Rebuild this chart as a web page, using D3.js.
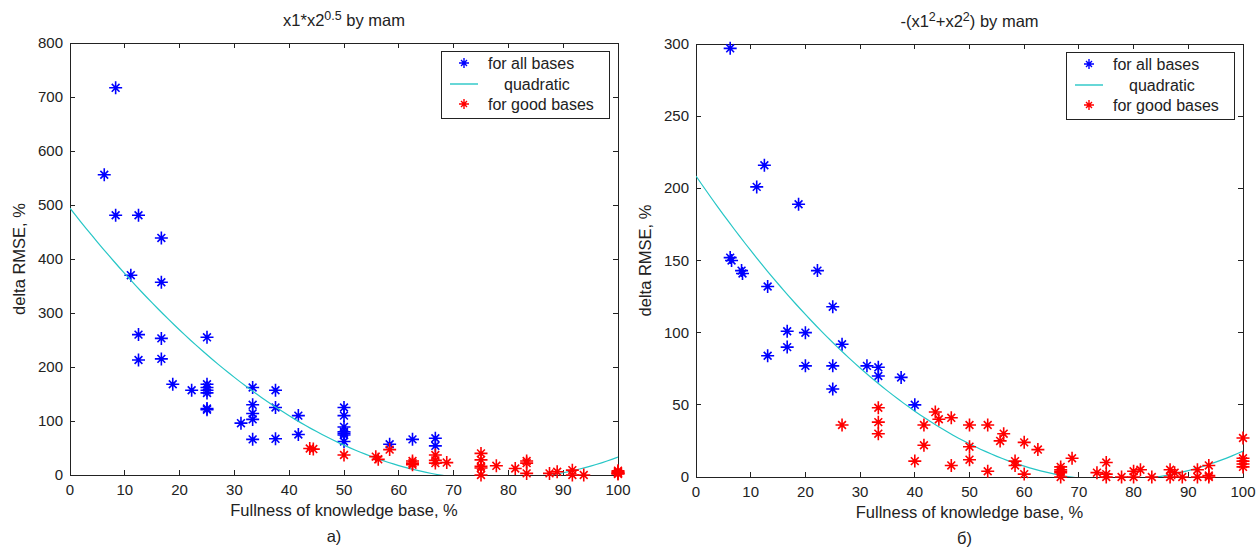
<!DOCTYPE html>
<html lang="ru">
<head>
<meta charset="UTF-8">
<title>delta RMSE vs fullness of knowledge base</title>
<script src="https://cdnjs.cloudflare.com/ajax/libs/d3/7.8.5/d3.min.js"></script>
<style>
    body { margin: 0; background: #fff; }
    svg { display: block; font-family: "Liberation Sans", Arial, sans-serif; }
    .axis-line { stroke: #222; stroke-width: 1; fill: none; shape-rendering: crispEdges; }
    .tick-lbl { font-size: 15px; fill: #222; }
    .lbl { font-size: 16.5px; fill: #222; }
</style>
</head>
<body>
<div id="chart"></div>
<script>
// ---- data ----
const xTicks = [0, 10, 20, 30, 40, 50, 60, 70, 80, 90, 100];
const yTicksA = [0, 100, 200, 300, 400, 500, 600, 700, 800];
const yTicksB = [0, 50, 100, 150, 200, 250, 300];

// panel a) x1*x2^0.5 by mam
const allBasesA = [
    [6.25, 556], [8.33, 717], [8.33, 481], [12.5, 481], [11.1, 370], [16.67, 439], [16.67, 357],
    [12.5, 260], [12.5, 213], [16.67, 253], [16.67, 215], [18.75, 168], [22.2, 157],
    [25, 255], [25, 168], [25, 162], [25, 157], [25, 152], [25, 123], [25, 121],
    [31.2, 96], [33.33, 162], [33.33, 130], [33.33, 114], [33.33, 103], [33.33, 66],
    [37.5, 157], [37.5, 125], [37.5, 67], [41.67, 110], [41.67, 75],
    [50, 125], [50, 110], [50, 89], [50, 80], [50, 77], [50, 74], [50, 62],
    [58.33, 57], [62.5, 66], [66.67, 68], [66.67, 54]
];
const goodBasesA = [
    [43.75, 49], [44.4, 48], [50, 37], [55.8, 34], [56.25, 29], [58.33, 47],
    [62.5, 26], [62.5, 22], [62.5, 19], [66.67, 37], [66.67, 27], [66.67, 22], [68.75, 23],
    [75, 40], [75, 28], [75, 16], [75, 13], [75, 0], [77.8, 17], [81.25, 12],
    [83.33, 26], [83.33, 22], [83.33, 3], [87.5, 3], [88.9, 6], [91.67, 9], [91.67, 0], [93.75, 0],
    [100, 8], [100, 6], [100, 4], [100, 3], [100, 2]
];
const quadA = [0.0833, -12.94, 494];   // a*x^2 + b*x + c

// panel б) -(x1^2+x2^2) by mam
const allBasesB = [
    [6.25, 297], [6.25, 152], [6.5, 150], [8.33, 143], [8.5, 141], [11.1, 201], [12.5, 216],
    [13.1, 132], [13.1, 84], [16.67, 101], [16.67, 90], [18.75, 189], [20, 100], [20, 77],
    [22.2, 143], [25, 118], [25, 77], [25, 61], [26.7, 92], [31.25, 77], [33.33, 76],
    [33.33, 70], [37.5, 69], [40, 50]
];
const goodBasesB = [
    [26.7, 36], [33.33, 48], [33.33, 38], [33.33, 30], [40, 11], [41.67, 36], [41.67, 22],
    [43.75, 45], [44.4, 40], [46.67, 41], [46.67, 8], [50, 36], [50, 21], [50, 12],
    [53.33, 36], [53.33, 4], [55.6, 25], [56.25, 30], [58.33, 11], [58.33, 8], [60, 24], [60, 2],
    [62.5, 19], [66.67, 7], [66.67, 5], [66.67, 4], [66.67, 3], [66.67, 0], [68.75, 13],
    [73.3, 3], [75, 10], [75, 2], [75, 0], [77.8, 0], [80, 4], [80, 0], [81.25, 5], [83.33, 0],
    [86.67, 5], [86.67, 0], [87.5, 3], [88.9, 0], [91.67, 5], [91.67, 0],
    [93.75, 8], [93.75, 1], [93.75, 0], [100, 27], [100, 13], [100, 11], [100, 9], [100, 7]
];
const quadB = [0.0361, -5.516, 208.5];

const legendLabels = ["for all bases", "quadratic", "for good bases"];
const xLabel = "Fullness of knowledge base, %";
const yLabel = "delta RMSE, %";

const BLUE = "#0000ff", RED = "#ff0000", CYAN = "#26c6c6";

const svg = d3.select("#chart").append("svg")
    .attr("width", 1258).attr("height", 547);

// matlab '*' marker: long + arms, shorter diagonals
function star(r) {
    const d = r * 0.6;
    return `M${-r},0H${r}M0,${-r}V${r}M${-d},${-d}L${d},${d}M${-d},${d}L${d},${-d}`;
}

function drawPanel(p) {
    const x = d3.scaleLinear().domain([0, 100]).range([p.left, p.right]);
    const y = d3.scaleLinear().domain([0, p.yMax]).range([p.bottom, p.top]);
    const g = svg.append("g");

    // box + ticks on all four sides (inward)
    g.append("rect").attr("class", "axis-line")
        .attr("x", p.left).attr("y", p.top)
        .attr("width", p.right - p.left).attr("height", p.bottom - p.top);

    const tl = 5;
    g.selectAll(".xt").data(xTicks).enter().append("path")
        .attr("class", "axis-line")
        .attr("d", d => `M${x(d)},${p.bottom}v${-tl}M${x(d)},${p.top}v${tl}`);
    g.selectAll(".yt").data(p.yTicks).enter().append("path")
        .attr("class", "axis-line")
        .attr("d", d => `M${p.left},${y(d)}h${tl}M${p.right},${y(d)}h${-tl}`);

    g.selectAll(".xl").data(xTicks).enter().append("text")
        .attr("class", "tick-lbl")
        .attr("x", d => x(d)).attr("y", p.bottom + 20)
        .attr("text-anchor", "middle").text(d => d);
    g.selectAll(".yl").data(p.yTicks).enter().append("text")
        .attr("class", "tick-lbl")
        .attr("x", p.left - 7).attr("y", d => y(d) + 5)
        .attr("text-anchor", "end").text(d => d);

    // labels
    g.append("text").attr("class", "lbl")
        .attr("x", (p.left + p.right) / 2).attr("y", p.bottom + 41)
        .attr("text-anchor", "middle").text(xLabel);
    g.append("text").attr("class", "lbl")
        .attr("transform", `translate(${p.left - 45},${(p.top + p.bottom) / 2}) rotate(-90)`)
        .attr("text-anchor", "middle").text(yLabel);
    g.append("text").attr("class", "lbl")
        .attr("x", (p.left + p.right) / 2 + p.tagDx).attr("y", p.bottom + 67)
        .attr("text-anchor", "middle").text(p.tag);

    // title with superscripts
    const t = g.append("text").attr("class", "lbl").style("font-size", "16.5px")
        .attr("x", (p.left + p.right) / 2).attr("y", p.top - 17)
        .attr("text-anchor", "middle");
    p.title.forEach(([s, sup]) => {
        t.append("tspan")
            .attr("baseline-shift", sup ? "45%" : null)
            .style("font-size", sup ? "12.5px" : null)
            .text(s);
    });

    // points: all bases
    g.selectAll(".pa").data(p.all).enter().append("path")
        .attr("d", star(6.5))
        .attr("transform", d => `translate(${x(d[0])},${y(d[1])})`)
        .attr("stroke", BLUE).attr("stroke-width", 1.6).attr("fill", "none");

    // quadratic fit, clipped to axes
    const clipId = "clip" + p.key;
    svg.append("clipPath").attr("id", clipId).append("rect")
        .attr("x", p.left).attr("y", p.top)
        .attr("width", p.right - p.left).attr("height", p.bottom - p.top);
    const [a, b, c] = p.quad;
    const fx = d3.range(0, 100.01, 1);
    g.append("path")
        .datum(fx)
        .attr("clip-path", `url(#${clipId})`)
        .attr("fill", "none").attr("stroke", CYAN).attr("stroke-width", 1.2)
        .attr("d", d3.line().x(v => x(v)).y(v => y(a * v * v + b * v + c)));

    // points: good bases
    g.selectAll(".pg").data(p.good).enter().append("path")
        .attr("d", star(6.5))
        .attr("transform", d => `translate(${x(d[0])},${y(d[1])})`)
        .attr("stroke", RED).attr("stroke-width", 1.6).attr("fill", "none");

    // legend
    const lx = p.right - 177, ly = p.top + 8;
    const lg = g.append("g").attr("transform", `translate(${lx},${ly})`);
    lg.append("rect").attr("width", 168).attr("height", 67)
        .attr("fill", "#fff").attr("stroke", "#222").attr("stroke-width", 1)
        .attr("shape-rendering", "crispEdges");
    const rows = [12, 33, 53];
    lg.append("path").attr("d", star(5)).attr("transform", `translate(23,${rows[0]})`)
        .attr("stroke", BLUE).attr("stroke-width", 1.4).attr("fill", "none");
    lg.append("line").attr("x1", 9).attr("x2", 37).attr("y1", rows[1]).attr("y2", rows[1])
        .attr("stroke", CYAN).attr("stroke-width", 1.4);
    lg.append("path").attr("d", star(5)).attr("transform", `translate(23,${rows[2]})`)
        .attr("stroke", RED).attr("stroke-width", 1.4).attr("fill", "none");
    [47, 63, 47].forEach((tx, i) => {
        lg.append("text").attr("class", "lbl").style("font-size", "16px")
            .attr("x", tx).attr("y", rows[i] + 6).text(legendLabels[i]);
    });
}

drawPanel({
    key: "a", left: 70, right: 618, top: 43, bottom: 475, yMax: 800, yTicks: yTicksA,
    all: allBasesA, good: goodBasesA, quad: quadA, tag: "а)", tagDx: -10,
    title: [["x1*x2", false], ["0.5", true], [" by mam", false]]
});
drawPanel({
    key: "b", left: 696, right: 1243, top: 44, bottom: 477, yMax: 300, yTicks: yTicksB,
    all: allBasesB, good: goodBasesB, quad: quadB, tag: "б)", tagDx: -5,
    title: [["-(x1", false], ["2", true], ["+x2", false], ["2", true], [") by mam", false]]
});
</script>
</body>
</html>
